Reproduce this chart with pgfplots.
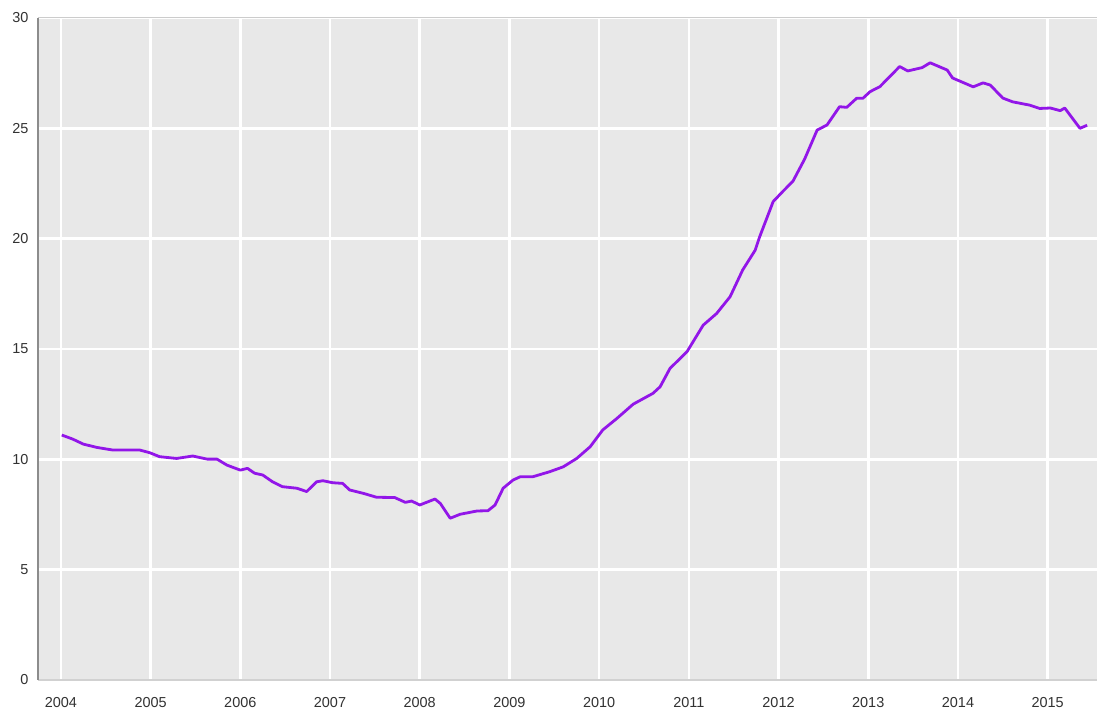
\documentclass[border=0pt]{standalone}
\usepackage{pgfplots}
\pgfplotsset{compat=1.18}
\usepackage{fontspec}
\setmainfont{Liberation Sans}
\definecolor{bgc}{RGB}{232,232,232}
\definecolor{linec}{RGB}{146,22,232}
\definecolor{labc}{RGB}{50,50,50}
\begin{document}
\begin{tikzpicture}[x=1bp,y=1bp]
\path[use as bounding box] (0,0) rectangle (1099,711);
\begin{axis}[
  at={(38bp,31bp)}, anchor=south west,
  width=1059bp, height=662bp, scale only axis,
  xmin=2003.745, xmax=2015.55,
  ymin=0, ymax=30,
  xtick={2004,2005,...,2015},
  ytick={0,5,...,30},
  /pgf/number format/1000 sep={},
  /pgf/number format/assume math mode=true,
  grid=major,
  major grid style={white, line width=2.6bp},
  tick style={draw=none},
  axis x line=bottom, axis y line=left,
  x axis line style={-, draw=black!18, line width=1.2bp},
  y axis line style={-, draw=black!45, line width=1.6bp},
  axis background/.style={fill=bgc},
  tick label style={font=\fontsize{14.5}{16}\selectfont, text=labc},
  xticklabel style={yshift=-12bp},
  yticklabel style={xshift=-4bp},
  clip=false,
]
\draw[black!20, line width=1bp] (rel axis cs:0,1) -- (rel axis cs:1,1);
\addplot[linec, line width=2.8bp, line join=round] coordinates {
(2004.01,11.10) (2004.13,10.92) (2004.25,10.69) (2004.40,10.54) (2004.58,10.42)
(2004.88,10.42) (2004.99,10.30) (2005.10,10.12) (2005.29,10.04) (2005.47,10.15)
(2005.63,10.01) (2005.74,10.01) (2005.85,9.74) (2006.00,9.51) (2006.08,9.59)
(2006.16,9.37) (2006.25,9.29) (2006.36,8.98) (2006.47,8.76) (2006.63,8.69)
(2006.74,8.54) (2006.85,8.98) (2006.92,9.03) (2007.03,8.94) (2007.14,8.91)
(2007.22,8.61) (2007.37,8.46) (2007.52,8.28) (2007.72,8.27) (2007.84,8.05)
(2007.91,8.11) (2008.00,7.93) (2008.17,8.20) (2008.23,8.00) (2008.34,7.33)
(2008.45,7.51) (2008.64,7.66) (2008.76,7.67) (2008.84,7.93) (2008.93,8.69)
(2009.04,9.06) (2009.12,9.21) (2009.26,9.21) (2009.45,9.44) (2009.60,9.66)
(2009.75,10.04) (2009.90,10.57) (2010.04,11.33) (2010.20,11.86) (2010.38,12.50)
(2010.60,12.99) (2010.68,13.29) (2010.79,14.12) (2010.98,14.88) (2011.16,16.08)
(2011.31,16.61) (2011.46,17.37) (2011.60,18.58) (2011.74,19.48) (2011.79,20.09)
(2011.94,21.68) (2012.05,22.15) (2012.16,22.60) (2012.29,23.60) (2012.43,24.92) (2012.54,25.15) (2012.68,25.98)
(2012.76,25.95) (2012.87,26.36) (2012.94,26.36) (2013.02,26.66) (2013.13,26.89)
(2013.35,27.80) (2013.44,27.60) (2013.60,27.75) (2013.69,27.97) (2013.88,27.64)
(2013.94,27.28) (2014.17,26.88) (2014.28,27.06) (2014.36,26.96) (2014.50,26.37)
(2014.61,26.20) (2014.80,26.05) (2014.91,25.90) (2015.03,25.92) (2015.14,25.80)
(2015.19,25.92) (2015.36,25.00) (2015.44,25.14)
};
\end{axis}
\end{tikzpicture}
\end{document}
